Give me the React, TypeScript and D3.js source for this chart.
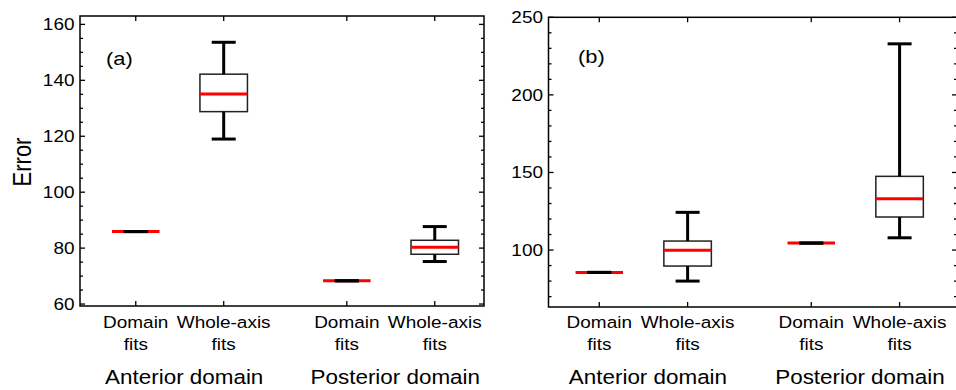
import React from "react";
import * as d3 from "d3";

// Categories
const groupNames = ["Anterior domain", "Posterior domain"];
const methodLines = [["Domain", "fits"], ["Whole-axis", "fits"]];
const boxPositions = [1, 2, 3.4, 4.4];

// Panel (a): box statistics per box (low whisker, Q1, median, Q3, high whisker)
const aLow = [85.9, 119.0, 68.3, 75.2];
const aQ1 = [85.9, 128.8, 68.3, 77.8];
const aMedian = [85.9, 135.1, 68.3, 80.3];
const aQ3 = [85.9, 142.2, 68.3, 82.8];
const aHigh = [85.9, 153.6, 68.3, 87.7];
const aMajorTicks = [60, 80, 100, 120, 140, 160];

// Panel (b)
const bLow = [85.6, 80.0, 104.5, 107.9];
const bQ1 = [85.6, 89.7, 104.5, 121.3];
const bMedian = [85.6, 99.8, 104.5, 133.1];
const bQ3 = [85.6, 105.8, 104.5, 147.5];
const bHigh = [85.6, 124.3, 104.5, 232.9];
const bMajorTicks = [100, 150, 200, 250];

const FONT = "'Liberation Sans', Arial, Helvetica, sans-serif";
const SX = 1.15;

type PanelProps = {
  label: string;
  left: number;
  right: number;
  top: number;
  bottom: number;
  xDomain: [number, number];
  yDomain: [number, number];
  major: number[];
  minorStep: number;
  low: number[];
  q1: number[];
  med: number[];
  q3: number[];
  high: number[];
  labelPos: [number, number];
  tickGap: number;
};

// Horizontally widened text, anchored at (x, y)
function Txt({ x, y, anchor, size, children }: any) {
  return (
    <g transform={`translate(${x},${y}) scale(${SX},1)`}>
      <text x={0} y={0} textAnchor={anchor} fontSize={size} fontFamily={FONT} fill="#000">
        {children}
      </text>
    </g>
  );
}

function Panel(p: PanelProps) {
  const x = d3.scaleLinear().domain(p.xDomain).range([p.left, p.right]);
  const y = d3.scaleLinear().domain(p.yDomain).range([p.bottom, p.top]);
  const minor = d3
    .range(p.major[0] - p.minorStep * 10, p.yDomain[1] + 0.001, p.minorStep)
    .filter((v) => v >= p.yDomain[0] - 0.001 && v <= p.yDomain[1] + 0.001)
    .filter((v) => !p.major.some((m) => Math.abs(m - v) < 1e-6));
  const boxW = 47.5;
  const capW = 24;
  const majLen = 5;
  const minLen = 3;
  return (
    <g>
      {/* frame */}
      <rect
        x={p.left}
        y={p.top}
        width={p.right - p.left}
        height={p.bottom - p.top}
        fill="none"
        stroke="#000"
        strokeWidth={1.5}
      />
      {/* y ticks, left and right, pointing inward */}
      {p.major.map((v) => (
        <g key={"M" + v}>
          <line x1={p.left} x2={p.left + majLen} y1={y(v)} y2={y(v)} stroke="#000" strokeWidth={1.3} />
          <line x1={p.right} x2={p.right - majLen} y1={y(v)} y2={y(v)} stroke="#000" strokeWidth={1.3} />
          <Txt x={p.left - p.tickGap} y={y(v) + 6} anchor="end" size={16.5}>
            {v}
          </Txt>
        </g>
      ))}
      {minor.map((v) => (
        <g key={"m" + v}>
          <line x1={p.left} x2={p.left + minLen} y1={y(v)} y2={y(v)} stroke="#000" strokeWidth={1.3} />
          <line x1={p.right} x2={p.right - minLen} y1={y(v)} y2={y(v)} stroke="#000" strokeWidth={1.3} />
        </g>
      ))}
      {/* x ticks top and bottom, with category labels */}
      {boxPositions.map((v, i) => (
        <g key={"x" + i}>
          <line x1={x(v)} x2={x(v)} y1={p.top} y2={p.top + majLen} stroke="#000" strokeWidth={1.3} />
          <line x1={x(v)} x2={x(v)} y1={p.bottom} y2={p.bottom - majLen} stroke="#000" strokeWidth={1.3} />
          <Txt x={x(v)} y={328} anchor="middle" size={16.5}>
            {methodLines[i % 2][0]}
          </Txt>
          <Txt x={x(v)} y={349.5} anchor="middle" size={16.5}>
            {methodLines[i % 2][1]}
          </Txt>
        </g>
      ))}
      {groupNames.map((g, gi) => (
        <Txt
          key={g}
          x={(x(boxPositions[gi * 2]) + x(boxPositions[gi * 2 + 1])) / 2 + 4.5}
          y={384}
          anchor="middle"
          size={19.5}
        >
          {g}
        </Txt>
      ))}
      {/* boxes */}
      {boxPositions.map((v, i) => {
        const cx = x(v);
        return (
          <g key={"b" + i}>
            <rect
              x={cx - boxW / 2}
              y={y(p.q3[i])}
              width={boxW}
              height={y(p.q1[i]) - y(p.q3[i])}
              fill="#fff"
              stroke="#222"
              strokeWidth={1.5}
            />
            <line x1={cx - boxW / 2} x2={cx + boxW / 2} y1={y(p.med[i])} y2={y(p.med[i])} stroke="#ff0000" strokeWidth={3} />
            <line x1={cx} x2={cx} y1={y(p.q3[i])} y2={y(p.high[i])} stroke="#000" strokeWidth={3} />
            <line x1={cx} x2={cx} y1={y(p.q1[i])} y2={y(p.low[i])} stroke="#000" strokeWidth={3} />
            <line x1={cx - capW / 2} x2={cx + capW / 2} y1={y(p.high[i])} y2={y(p.high[i])} stroke="#000" strokeWidth={3} />
            <line x1={cx - capW / 2} x2={cx + capW / 2} y1={y(p.low[i])} y2={y(p.low[i])} stroke="#000" strokeWidth={3} />
          </g>
        );
      })}
      <Txt x={p.labelPos[0]} y={p.labelPos[1]} anchor="start" size={19}>
        {p.label}
      </Txt>
    </g>
  );
}

export default function App() {
  return (
    <svg
      width={956}
      height={390}
      style={{ position: "absolute", left: 0, top: 0, background: "#fff" }}
    >
      <rect x={0} y={0} width={956} height={390} fill="#fff" />
      <Panel
        label="(a)"
        left={80}
        right={484}
        top={16}
        bottom={306}
        xDomain={[0.366, 4.96]}
        yDomain={[59.3, 163]}
        major={aMajorTicks}
        minorStep={5}
        low={aLow}
        q1={aQ1}
        med={aMedian}
        q3={aQ3}
        high={aHigh}
        labelPos={[106, 65]}
        tickGap={5.5}
      />
      <Panel
        label="(b)"
        left={548.5}
        right={957}
        top={17.3}
        bottom={307}
        xDomain={[0.425, 5.05]}
        yDomain={[63.3, 250]}
        major={bMajorTicks}
        minorStep={10}
        low={bLow}
        q1={bQ1}
        med={bMedian}
        q3={bQ3}
        high={bHigh}
        labelPos={[578, 63]}
        tickGap={5.5}
      />
      <text
        transform={`translate(31,162) scale(${SX},1) rotate(-90)`}
        textAnchor="middle"
        fontSize={22}
        fontFamily={FONT}
      >
        Error
      </text>
    </svg>
  );
}
